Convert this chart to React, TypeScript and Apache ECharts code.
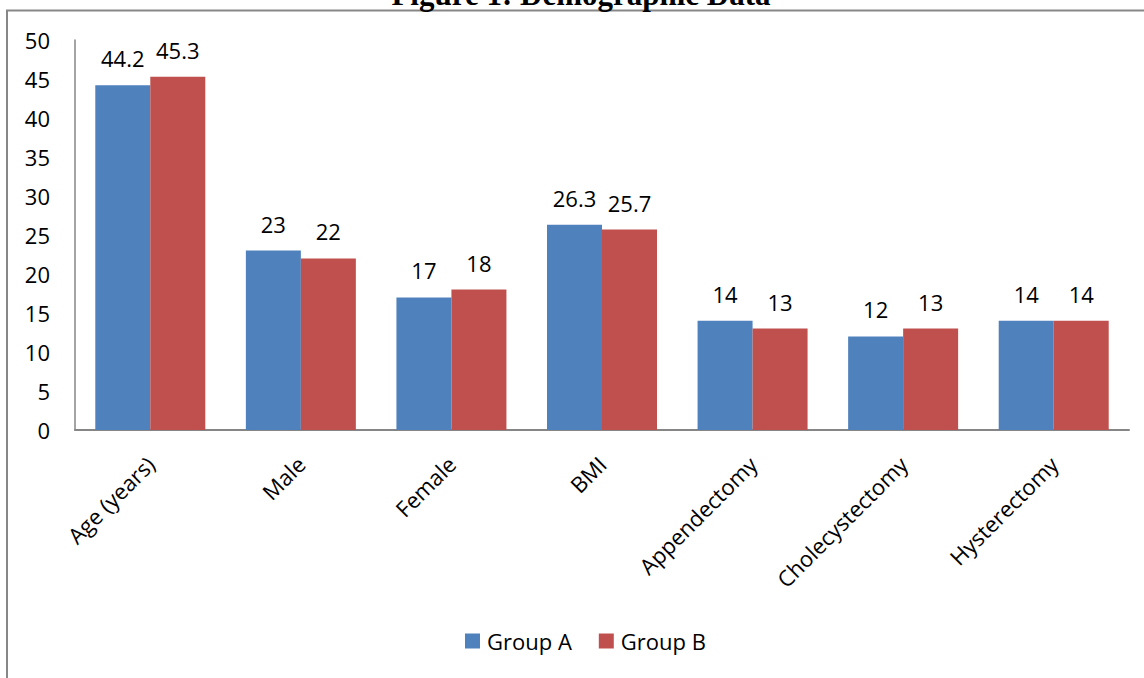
import React, { useEffect, useRef } from "react";
import * as echarts from "echarts";

const categories = ["Age (years)", "Male", "Female", "BMI", "Appendectomy", "Cholecystectomy", "Hysterectomy"];
const groupA = [44.2, 23, 17, 26.3, 14, 12, 14];
const groupB = [45.3, 22, 18, 25.7, 13, 13, 14];
const seriesNames = ["Group A", "Group B"];
const titleText = "Figure 1: Demographic Data";

const FONT = "'Open Sans', sans-serif";

export default function App() {
  const ref = useRef<HTMLDivElement>(null);
  useEffect(() => {
    if (!ref.current) return;
    const chart = echarts.init(ref.current, null, { renderer: "svg" });
    const label = {
      show: true,
      position: "top",
      distance: 16,
      color: "#000",
      fontFamily: FONT,
      fontSize: 22,
    };
    chart.setOption({
      animation: false,
      backgroundColor: "#fff",
      graphic: [
        {
          type: "rect",
          shape: { x: 7, y: 10.5, width: 1300, height: 900 },
          style: { fill: "none", stroke: "#878787", lineWidth: 2 },
          silent: true,
          z: -1,
        },
        {
          type: "text",
          x: 581,
          y: -6,
          style: {
            text: titleText,
            font: "bold 31px 'Liberation Serif', serif",
            fill: "#000",
            textAlign: "center",
            textVerticalAlign: "middle",
          },
        },
      ],
      legend: {
        data: seriesNames,
        left: 460,
        top: 625,
        itemWidth: 15,
        itemHeight: 15,
        itemGap: 27,
        icon: "rect",
        textStyle: { fontFamily: FONT, fontSize: 22, color: "#000", padding: [0, 0, 0, 2] },
      },
      grid: { left: 75, right: 15, top: 40, bottom: 248, containLabel: false },
      xAxis: {
        type: "category",
        data: categories,
        axisLine: { lineStyle: { color: "#868686", width: 2 } },
        axisTick: { show: false },
        axisLabel: {
          rotate: 45,
          interval: 0,
          margin: 30,
          color: "#000",
          fontFamily: FONT,
          fontSize: 22,
        },
      },
      yAxis: {
        type: "value",
        min: 0,
        max: 50,
        interval: 5,
        axisLine: { show: true, lineStyle: { color: "#868686", width: 1.5 } },
        axisTick: { show: false },
        splitLine: { show: false },
        axisLabel: { margin: 25, color: "#000", fontFamily: FONT, fontSize: 22 },
      },
      series: [
        {
          name: seriesNames[0],
          type: "bar",
          data: groupA,
          barWidth: 55,
          barGap: "0%",
          itemStyle: { color: "#4F81BD" },
          label,
        },
        {
          name: seriesNames[1],
          type: "bar",
          data: groupB,
          barWidth: 55,
          barGap: "0%",
          itemStyle: { color: "#C0504D" },
          label,
        },
      ],
    });
    return () => chart.dispose();
  }, []);
  return <div ref={ref} style={{ position: "absolute", left: 0, top: 0, width: 1144, height: 678 }} />;
}
